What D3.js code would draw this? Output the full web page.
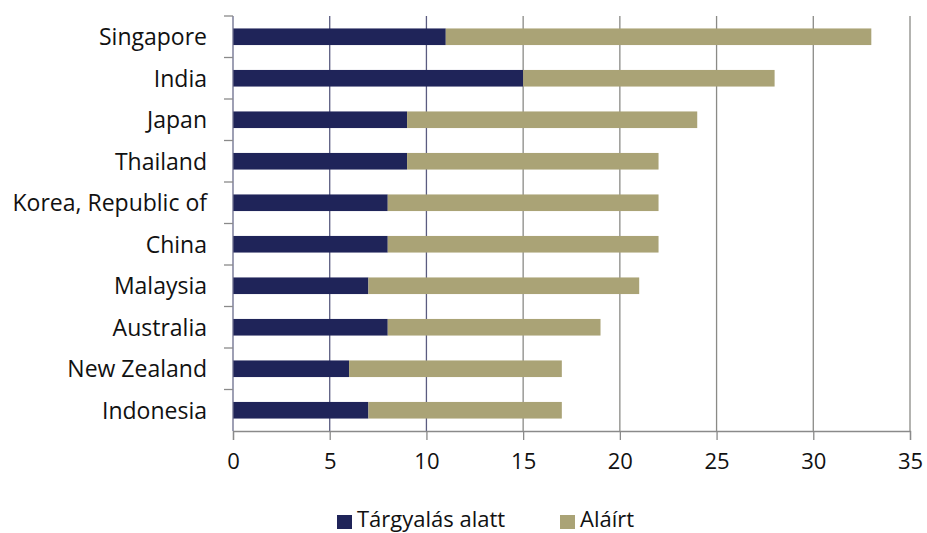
<!DOCTYPE html>
<html>
<head>
<meta charset="utf-8">
<script src="https://cdn.jsdelivr.net/npm/d3@7"></script>
<style>
  body { margin: 0; background: #fff; }
  text { font-family: "Open Sans", sans-serif; fill: #111; }
</style>
</head>
<body>
<div id="bar_graph"></div>
<script>
// data (top to bottom)
const countries = ["Singapore", "India", "Japan", "Thailand", "Korea, Republic of",
                   "China", "Malaysia", "Australia", "New Zealand", "Indonesia"];
const underNegotiation = [11, 15, 9, 9, 8, 8, 7, 8, 6, 7];
const signed = [22, 13, 15, 13, 14, 14, 14, 11, 11, 10];
const seriesNames = ["Tárgyalás alatt", "Aláírt"];
const xTicks = [0, 5, 10, 15, 20, 25, 30, 35];

const colors = ["#1f2459", "#aaa376"];
const margin = {top: 16, right: 17, bottom: 102, left: 233},
      width = 927 - margin.left - margin.right,
      height = 533 - margin.top - margin.bottom;

const svg = d3.select("#bar_graph")
  .append("svg")
    .attr("width", 927)
    .attr("height", 533)
  .append("g")
    .attr("transform", `translate(${margin.left},${margin.top})`);

const rows = countries.map((c, i) => ({country: c, a: underNegotiation[i], b: signed[i]}));
const stacked = d3.stack().keys(["a", "b"])(rows);

const x = d3.scaleLinear().domain([0, 35]).range([0, width]);
const y = d3.scaleBand().domain(countries).range([0, height]).paddingInner(0.6).paddingOuter(0.3);

// vertical gridlines
svg.append("g")
  .selectAll("line")
  .data(xTicks.slice(1))
  .join("line")
    .attr("x1", d => x(d)).attr("x2", d => x(d))
    .attr("y1", 0).attr("y2", height)
    .attr("stroke", d => d <= 10 ? "#5a5c80" : "#8a8a86")
    .attr("stroke-width", 1.3);

// bars
svg.append("g")
  .selectAll("g")
  .data(stacked)
  .join("g")
    .attr("fill", (d, i) => colors[i])
  .selectAll("rect")
  .data(d => d)
  .join("rect")
    .attr("x", d => x(d[0]))
    .attr("width", d => x(d[1]) - x(d[0]))
    .attr("y", d => y(d.data.country))
    .attr("height", y.bandwidth());

// x axis
const xAxis = svg.append("g")
  .attr("transform", `translate(0,${height})`)
  .call(d3.axisBottom(x).tickValues(xTicks).tickSize(9).tickPadding(13));
xAxis.select(".domain").attr("stroke", "#8a8a8a").attr("stroke-width", 1.3);
xAxis.selectAll(".tick line").attr("stroke", "#8a8a8a").attr("stroke-width", 1.3);
xAxis.selectAll("text").style("font-size", "22px").attr("fill", "#111");

// y axis, ticks sit on band boundaries
const yAxis = svg.append("g");
yAxis.append("line")
  .attr("x1", 0).attr("x2", 0).attr("y1", 0).attr("y2", height)
  .attr("stroke", "#6a6c8c").attr("stroke-width", 1.3);
const step = height / countries.length;
yAxis.selectAll(".ytick")
  .data(d3.range(countries.length))
  .join("line")
    .attr("x1", -9).attr("x2", 0)
    .attr("y1", d => d * step).attr("y2", d => d * step)
    .attr("stroke", "#8a8a8a").attr("stroke-width", 1.3);
yAxis.selectAll(".ylabel")
  .data(countries)
  .join("text")
    .attr("x", -26)
    .attr("y", d => y(d) + y.bandwidth() / 2)
    .attr("dy", "0.36em")
    .attr("text-anchor", "end")
    .style("font-size", "23px")
    .text(d => d);

// legend
const legend = d3.select("svg").append("g").attr("transform", "translate(337,515)");
const legendX = [0, 223];
seriesNames.forEach((name, i) => {
  const g = legend.append("g").attr("transform", `translate(${legendX[i]},0)`);
  g.append("rect").attr("width", 15).attr("height", 14).attr("fill", colors[i]);
  g.append("text").attr("x", 20).attr("y", 12).style("font-size", "22px").text(name);
});
</script>
</body>
</html>
